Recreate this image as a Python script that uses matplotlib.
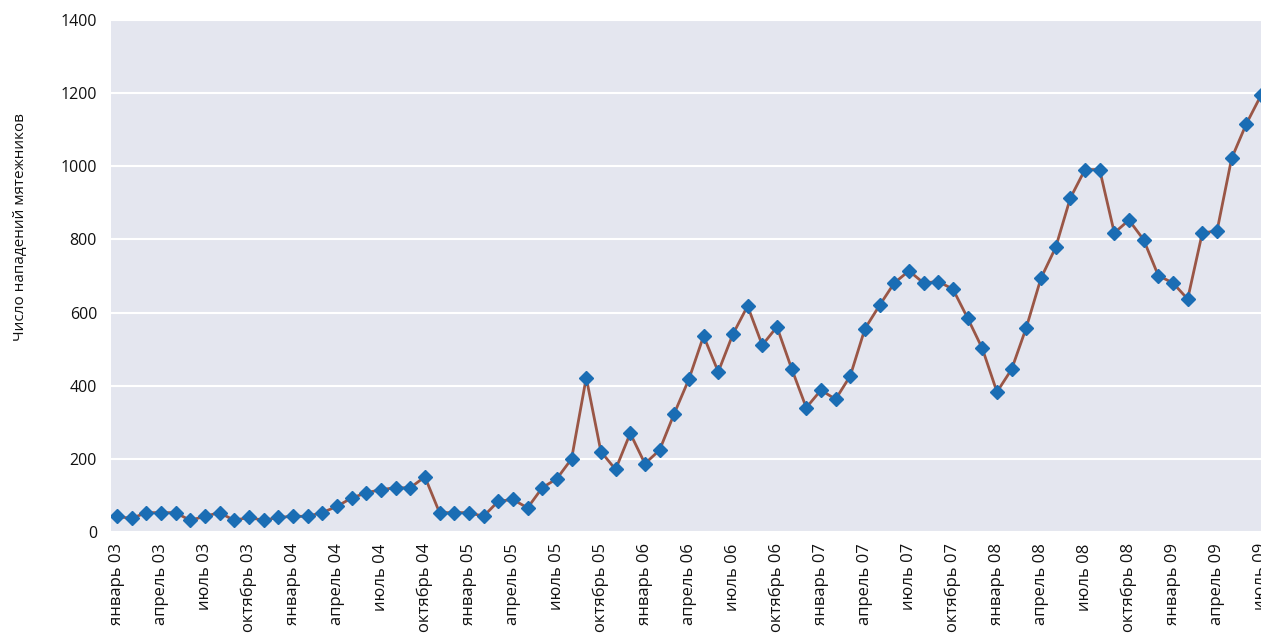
import matplotlib
matplotlib.use("Agg")
import matplotlib.pyplot as plt

plt.rcParams['font.family'] = ['Open Sans', 'DejaVu Sans']

# monthly insurgent attacks, Jan 2003 .. Jul 2009
attacks = [
    43, 37, 53, 53, 53, 32, 43, 53, 32, 40, 32, 40,     # 2003
    43, 43, 53, 70, 93, 107, 116, 121, 121, 151, 53, 53,  # 2004
    53, 43, 84, 89, 66, 121, 146, 200, 422, 220, 171, 270,  # 2005
    187, 224, 324, 418, 536, 438, 541, 618, 511, 561, 447, 340,  # 2006
    388, 363, 427, 556, 620, 681, 714, 681, 685, 664, 585, 502,  # 2007
    383, 445, 559, 694, 778, 913, 991, 991, 818, 853, 799, 701,  # 2008
    681, 637, 818, 823, 1022, 1116, 1194,                # 2009
]
months = ['январь', 'апрель', 'июль', 'октябрь']
years = ['03', '04', '05', '06', '07', '08', '09']
tick_labels = [f'{m} {y}' for y in years for m in months][:27]
y_ticks = [0, 200, 400, 600, 800, 1000, 1200, 1400]

fig = plt.figure(figsize=(12.61, 6.39), dpi=100)
ax = fig.add_axes([0.088, 0.1674, 0.912, 0.8013])
ax.set_facecolor('#e4e6ef')

x = list(range(len(attacks)))
ax.plot(x, attacks, color='#9a5646', linewidth=2.0, marker='D',
        markersize=7, markerfacecolor='#1a6db4', markeredgecolor='#1a6db4', zorder=3)

ax.set_xlim(-0.4, len(attacks) - 1)
ax.set_ylim(0, 1400)
ax.set_yticks(y_ticks)
ax.set_xticks(x[::3])
ax.set_xticklabels(tick_labels, rotation=90, fontsize=12, va='top')
ax.tick_params(axis='both', length=0, colors='#111111')
ax.tick_params(axis='y', pad=10, labelsize=11.5)
ax.tick_params(axis='x', pad=8)
ax.yaxis.grid(True, color='white', linewidth=1.5)
ax.set_axisbelow(True)
for s in ax.spines.values():
    s.set_visible(False)

ax.set_ylabel('Число нападений мятежников', fontsize=11, color='#111111')
ax.yaxis.set_label_coords(-0.072, 0.596)

fig.savefig('out.png', dpi=100)
